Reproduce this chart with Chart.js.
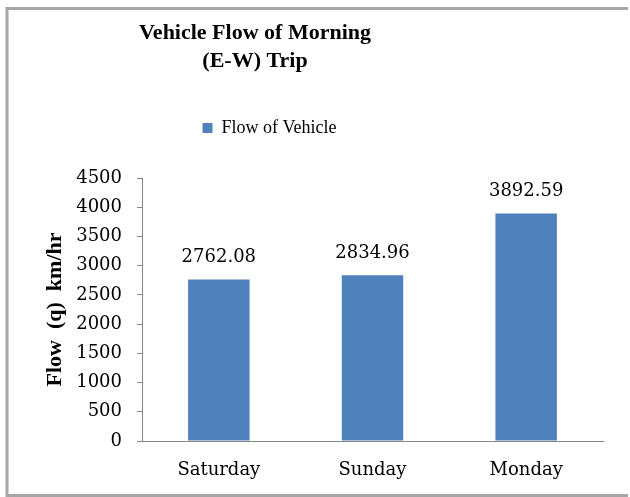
<!DOCTYPE html>
<html>
<head>
<meta charset="utf-8">
<script src="https://cdn.jsdelivr.net/npm/chart.js@4/dist/chart.umd.min.js"></script>
<style>
  html, body { margin: 0; padding: 0; background: #ffffff; overflow: hidden; }
  #wrap { width: 630px; height: 497px; position: relative; }
</style>
</head>
<body>
<div id="wrap"><canvas id="c" width="630" height="497"></canvas></div>
<script>
const categories = ['Saturday', 'Sunday', 'Monday'];
const flowValues = [2762.08, 2834.96, 3892.59];
const valueLabels = ['2762.08', '2834.96', '3892.59'];
const seriesName = 'Flow of Vehicle';
const titleLines = ['Vehicle Flow of Morning', '(E-W) Trip'];
const yAxisTitle = 'Flow  (q)  km/hr';
const yMin = 0, yMax = 4500, yStep = 500;

const BAR_COLOR = '#4F81BD';
const AXIS_COLOR = '#868686';
const NUM_FONT = '"DejaVu Serif"';
const TXT_FONT = '"Liberation Serif"';

const frame = {
  id: 'frame',
  afterDraw(chart) {
    const ctx = chart.ctx;
    ctx.save();
    ctx.strokeStyle = '#A5A5A5';
    ctx.lineWidth = 3;
    ctx.lineCap = 'butt';
    ctx.beginPath();
    ctx.moveTo(628, 8.5);
    ctx.lineTo(7, 8.5);
    ctx.lineTo(7, 495.5);
    ctx.lineTo(628, 495.5);
    ctx.stroke();
    ctx.restore();
  }
};

const layoutFix = {
  id: 'layoutFix',
  afterLayout(chart) {
    const t = chart.titleBlock;
    if (t) { t.left = 8; t.right = 502; }
    const lg = chart.legend;
    if (lg) {
      const h = lg.bottom - lg.top;
      lg.top = 109; lg.bottom = 109 + h;
      lg.left = 8; lg.right = 531;
    }
  }
};

const dataLabels = {
  id: 'dataLabels',
  afterDatasetsDraw(chart) {
    const ctx = chart.ctx;
    const meta = chart.getDatasetMeta(0);
    ctx.save();
    ctx.font = '18px ' + NUM_FONT;
    ctx.fillStyle = '#000000';
    ctx.textAlign = 'center';
    ctx.textBaseline = 'middle';
    meta.data.forEach((bar, i) => {
      ctx.fillText(valueLabels[i], bar.x, bar.y - 22);
    });
    ctx.restore();
  }
};

new Chart(document.getElementById('c'), {
  type: 'bar',
  data: {
    labels: categories,
    datasets: [{
      label: seriesName,
      data: flowValues,
      backgroundColor: BAR_COLOR,
      borderWidth: 0,
      barPercentage: 0.4,
      categoryPercentage: 1.0
    }]
  },
  options: {
    responsive: false,
    animation: false,
    devicePixelRatio: 1,
    layout: { padding: { left: 8, right: 27, top: 8, bottom: 12 } },
    plugins: {
      tooltip: { enabled: false },
      title: {
        display: true,
        text: titleLines,
        color: '#000000',
        font: { family: TXT_FONT, size: 22, weight: 'bold', lineHeight: 28 / 22 },
        padding: { top: 11, bottom: 65 }
      },
      legend: {
        display: true,
        position: 'top',
        labels: {
          color: '#000000',
          font: { family: TXT_FONT, size: 18 },
          boxWidth: 10,
          boxHeight: 10,
          padding: 10
        }
      }
    },
    scales: {
      x: {
        grid: { display: false, drawTicks: false },
        border: { display: true, color: AXIS_COLOR, width: 1 },
        ticks: { color: '#000000', font: { family: NUM_FONT, size: 18 }, padding: 19 },
        afterFit(scale) { scale.height = 44; }
      },
      y: {
        min: yMin,
        max: yMax,
        ticks: {
          stepSize: yStep,
          color: '#000000',
          font: { family: NUM_FONT, size: 18 },
          padding: 15,
          callback: (v) => String(v)
        },
        grid: { drawOnChartArea: false, drawTicks: true, tickLength: 5, color: AXIS_COLOR },
        border: { display: true, color: AXIS_COLOR, width: 1 },
        title: {
          display: true,
          text: yAxisTitle,
          color: '#000000',
          font: { family: TXT_FONT, size: 22, weight: 'bold' },
          padding: { top: 34, bottom: 0 }
        },
        afterFit(scale) { scale.width = 134; }
      }
    }
  },
  plugins: [frame, layoutFix, dataLabels]
});
</script>
</body>
</html>
